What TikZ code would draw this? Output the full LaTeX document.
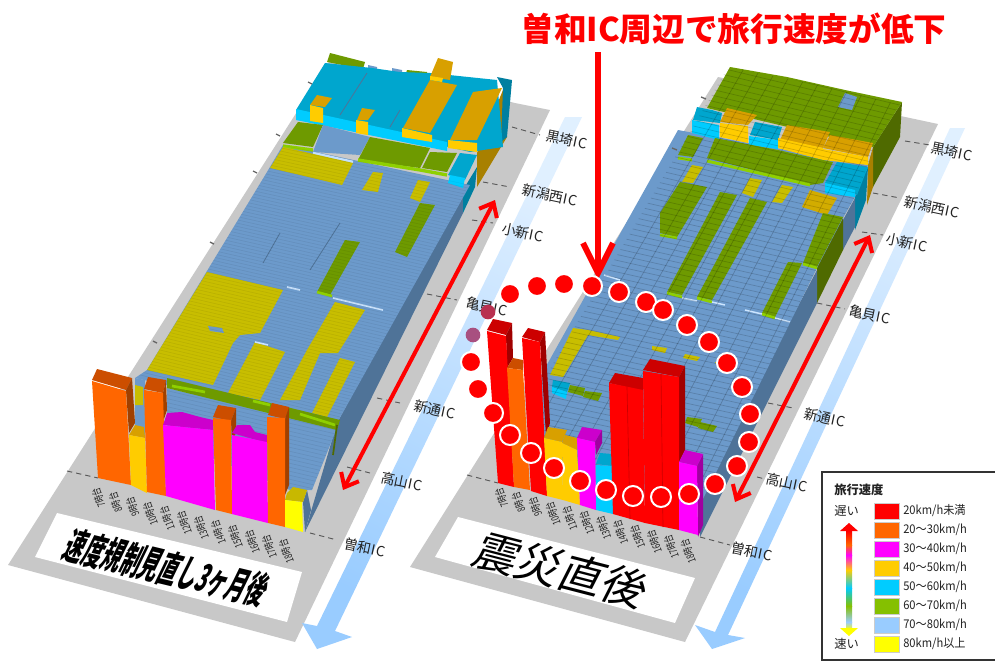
\documentclass[tikz,border=0pt]{standalone}
\usepackage{fontspec}
\usepackage{graphicx}
\usetikzlibrary{arrows.meta}
\setmainfont{Noto Sans CJK JP}
\definecolor{blTop}{HTML}{6C9ACB}
\definecolor{blWall}{HTML}{4F7398}
\definecolor{olv}{HTML}{C8BE00}
\definecolor{grn}{HTML}{6E9A00}
\definecolor{grnW}{HTML}{4F6A00}
\definecolor{lime}{HTML}{8FD000}
\definecolor{cyT}{HTML}{00A6CE}
\definecolor{cyF}{HTML}{00CCFF}
\definecolor{cyW}{HTML}{007FA0}
\definecolor{gdT}{HTML}{D8A000}
\definecolor{gdF}{HTML}{FFCC00}
\definecolor{gdW}{HTML}{A88000}
\definecolor{orF}{HTML}{FF6600}
\definecolor{orT}{HTML}{CC4E00}
\definecolor{orW}{HTML}{A04000}
\definecolor{mgF}{HTML}{FF00FF}
\definecolor{mgT}{HTML}{CC00CC}
\definecolor{mgW}{HTML}{A000A0}
\definecolor{rdF}{HTML}{FF0000}
\definecolor{rdT}{HTML}{CC0000}
\definecolor{rdW}{HTML}{A00000}
\definecolor{ylF}{HTML}{FFFF00}
\definecolor{ylT}{HTML}{C8B800}
\definecolor{base}{HTML}{C8C8C8}
\definecolor{lgt}{HTML}{99CCFF}
\definecolor{txtc}{HTML}{222222}
\definecolor{dotA}{HTML}{B83050}
\definecolor{dotB}{HTML}{A85080}
\tikzset{
  tick/.style={draw=black!65,line width=0.7pt,dash pattern=on 4pt off 3pt},
  iclabel/.style={text=txtc,font=\fontsize{10.5}{12}\selectfont,rotate=-12,inner sep=0pt},
  hourlabel/.style={text=txtc,font=\fontsize{8}{9}\selectfont,rotate=110,inner sep=0pt,anchor=east},
  redarrow/.style={draw=red,line width=3pt,{Straight Barb[length=9pt,width=15pt,line width=3pt]}-{Straight Barb[length=9pt,width=15pt,line width=3pt]}},
  dotring/.style={circle,fill=red,draw=white,line width=1.5pt,minimum size=15pt,inner sep=0pt},
  dotplain/.style={circle,fill=#1,minimum size=11pt,inner sep=0pt},
  swatch/.style={minimum width=19pt,minimum height=12pt,inner sep=0pt,draw=black!20,line width=0.3pt},
  legtext/.style={text=txtc,font=\fontsize{9}{10}\selectfont,anchor=west,inner sep=0pt},
  bluearrow/.style={top color=lgt!30,middle color=lgt!90,bottom color=lgt,shading angle=-25},
}
\newcommand{\pg}[2]{\fill[#1] #2 -- cycle;}
\newcommand{\ICt}{I\kern1pt C}
\begin{document}
\begin{tikzpicture}[x=0.75pt,y=-0.75pt]
\useasboundingbox (0,0) rectangle (995,661);
\fill[white] (0,0) rectangle (995,661);
% ---------- grey bases
\pg{base}{(8,565)--(295,642)--(550,110)--(515,103)--(330,60)}
\pg{base}{(410,567)--(685,642)--(938,124)--(718,77)}
% ---------- blue arrows
\shade[bluearrow] (565,117)--(582,117)--(335,631)--(352,637)--(317,649)--(302,623)--(317,626)--cycle;
\shade[bluearrow] (950,128)--(965,128)--(728,635)--(745,638)--(712,649)--(695,625)--(715,632)--cycle;
% ---------- white plates
\pg{white}{(57,513)--(302,572)--(287,622)--(35,557)}
\pg{white}{(458,517)--(695,578)--(675,623)--(435,557)}
\node[rotate=-13.5,xslant=0.22,inner sep=0pt,font=\fontsize{29}{30}\selectfont\bfseries] (ltitle) at (167,568) {\scalebox{0.5}[1]{速度規制見直し3ヶ月後}};
\node[rotate=-14.5,xslant=0.22,inner sep=0pt,font=\fontsize{33}{34}\selectfont] (rtitle) at (562,570) {震災直後};
% ---------- left panel walls
\pg{blWall}{(305,532)--(337,423)--(463,190)--(463,213)}
\pg{cyW}{(463,190)--(477,167)--(475,187)--(463,213)}
\pg{gdW}{(477,153)--(503,90)--(507,137)--(477,187)}
\pg{cyW}{(503,88)--(497,77)--(512,80)--(507,137)--(501,142)}
% left panel surface
\pg{blTop}{(283,145)--(470,185)--(337,423)--(135,378)--(147,370)--(267,172)}
\pg{grn}{(330,53)--(365,62)--(363,69)--(327,62)}
\pg{blTop}{(368,65)--(377,67)--(377,75)--(368,73)}
\pg{blTop}{(392,68)--(402,70)--(402,76)--(392,74)}
\pg{grn}{(407,70)--(427,72)--(427,79)--(405,76)}
\pg{cyT}{(325,63)--(372,68)--(400,72)--(430,73)--(497,80)--(503,147)--(470,152)--(300,112)--(296,110)}
\pg{cyF}{(296,109)--(447,142)--(447,151)--(296,120)}
\pg{gdT}{(438,58)--(453,62)--(450,80)--(430,77)}
\pg{gdT}{(430,80)--(457,85)--(430,133)--(403,128)}
\pg{gdF}{(402,128)--(432,135)--(432,142)--(402,137)}
\pg{gdF}{(430,76)--(443,78)--(442,82)--(430,80)}
\pg{gdT}{(473,92)--(502,88)--(477,140)--(450,140)}
\pg{gdF}{(448,140)--(477,143)--(477,152)--(448,148)}
\pg{gdT}{(317,95)--(332,98)--(325,107)--(310,105)}
\pg{gdF}{(310,105)--(323,108)--(323,123)--(310,121)}
\pg{gdT}{(362,108)--(375,110)--(368,120)--(357,120)}
\pg{gdF}{(356,120)--(368,122)--(368,135)--(356,133)}
\pg{grn}{(298,122)--(323,125)--(313,147)--(283,143)}
\pg{blTop}{(323,125)--(370,137)--(360,155)--(313,152)}
\pg{grn}{(370,137)--(430,148)--(420,168)--(358,160)}
\pg{grn}{(430,152)--(457,153)--(447,172)--(422,168)}
\pg{cyT}{(460,153)--(477,155)--(465,180)--(448,175)}
\pg{cyF}{(450,175)--(465,178)--(463,188)--(448,183)}
\draw[lime,line width=2.5pt] (283,146)--(313,150);
\draw[lime,line width=2.5pt] (358,160)--(420,170)--(447,175);
\draw[lgt!60,line width=2pt] (313,153)--(353,162);
\pg{olv}{(270,168)--(283,147)--(353,163)--(342,185)--(300,175)}
\pg{olv}{(373,172)--(383,173)--(378,192)--(362,190)}
\pg{olv}{(418,180)--(430,182)--(420,202)--(410,198)}
\pg{grn}{(420,203)--(435,205)--(407,257)--(395,252)}
\pg{grn}{(345,240)--(360,242)--(330,295)--(317,292)}
\draw[lime,line width=2pt] (317,292)--(332,296);
\pg{olv}{(207,272)--(283,290)--(260,333)--(240,335)--(233,343)--(213,385)--(147,370)}
\pg{blTop}{(208,326)--(222,328)--(224,333)--(210,331)}
\pg{olv}{(255,342)--(285,352)--(260,400)--(228,393)}
\pg{olv}{(335,302)--(365,310)--(338,353)--(320,353)--(300,400)--(280,400)--(307,350)}
\pg{olv}{(340,358)--(355,362)--(327,417)--(312,413)}
\draw[lgt!50,line width=1.2pt] (287,287)--(300,290) (333,298)--(383,310) (255,342)--(268,345);
\draw[blWall,line width=0.6pt] (280,233)--(263,263) (340,223)--(310,270) (367,73)--(340,115) (400,110)--(390,127);
% stripes left
\begin{scope}
\clip (283,145)--(470,185)--(337,423)--(135,378)--(147,370)--(267,172)--cycle;
\foreach \t in {0,0.0125,...,1.01}{
  \pgfmathsetmacro\ax{132+\t*(283-132)}\pgfmathsetmacro\ay{373+\t*(145-373)}
  \pgfmathsetmacro\bx{337+\t*(470-337)}\pgfmathsetmacro\by{423+\t*(185-423)}
  \draw[black,opacity=0.08,line width=0.4pt] (\ax,\ay)--(\bx,\by);
}
\end{scope}
% green strip + blue behind bars
\pg{blTop}{(167,388)--(337,428)--(312,490)--(290,490)--(167,440)}
\begin{scope}
\clip (167,388)--(337,428)--(312,490)--(290,490)--(167,440)--cycle;
\foreach \t in {0,...,24}{\draw[black,opacity=0.08,line width=0.4pt] (160,{385+\t*4})--(340,{427+\t*4});}
\end{scope}
\pg{grn}{(167,378)--(340,420)--(337,430)--(167,388)}
\draw[lime,line width=2pt] (172,386)--(205,392) (253,401)--(270,405) (300,414)--(335,425);
\draw[grnW,line width=1.3pt] (337,425)--(333,455);
% left near bars
\pg{orT}{(92,380)--(97,369)--(132,378)--(126,390)}
\pg{orW}{(126,390)--(132,378)--(135,423)--(129,433)}
\pg{orF}{(92,381)--(126,391)--(131,485)--(98,478)}
\pg{blTop}{(135,378)--(145,380)--(145,438)--(135,425)}
\pg{olv}{(135,385)--(143,387)--(143,405)--(135,405)}
\pg{gdT}{(129,435)--(135,425)--(144,427)--(145,438)}
\pg{gdF}{(129,435)--(145,438)--(147,493)--(131,485)}
\pg{orT}{(144,389)--(148,377)--(166,380)--(163,393)}
\pg{orW}{(163,393)--(166,380)--(167,410)--(163,422)}
\pg{orF}{(144,390)--(163,393)--(166,496)--(147,492)}
\pg{mgT}{(163,425)--(167,413)--(182,412)--(200,417)--(213,420)--(213,430)}
\pg{mgF}{(163,425)--(213,430)--(215,510)--(166,496)}
\pg{orT}{(213,417)--(218,405)--(236,408)--(231,421)}
\pg{orW}{(231,421)--(236,408)--(236,433)--(232,440)}
\pg{orF}{(213,418)--(231,420)--(232,514)--(216,510)}
\pg{mgT}{(232,433)--(237,425)--(250,425)--(255,432)--(267,435)--(267,443)}
\pg{mgF}{(232,435)--(267,442)--(268,523)--(232,514)}
\pg{orT}{(268,415)--(272,403)--(289,407)--(285,419)}
\pg{orW}{(285,419)--(289,407)--(289,485)--(285,495)}
\pg{orF}{(267,417)--(285,418)--(285,527)--(268,523)}
\pg{blWall}{(303,502)--(307,490)--(311,510)--(305,532)}
\pg{ylT}{(287,493)--(293,487)--(307,490)--(303,502)--(285,500)}
\pg{ylF}{(285,500)--(302,502)--(303,532)--(285,527)}
% ---------- right panel walls
\pg{grnW}{(902,102)--(900,137)--(873,187)--(873,147)}
\pg{gdW}{(868,165)--(873,147)--(873,187)--(867,205)}
\pg{cyW}{(868,167)--(866,200)--(855,230)--(855,195)}
\pg{blWall}{(855,198)--(855,227)--(843,250)--(843,220)}
\pg{grnW}{(843,215)--(843,250)--(817,303)--(817,267)}
\pg{blWall}{(817,270)--(817,303)--(700,537)--(700,500)--(710,473)}
% right surface
\pg{blTop}{(678,130)--(868,165)--(855,197)--(843,218)--(817,268)--(700,505)--(540,470)--(530,395)}
\pg{grn}{(730,67)--(787,77)--(845,90)--(902,102)--(873,147)--(707,108)}
\pg{blTop}{(845,93)--(857,97)--(852,110)--(838,107)}
\pg{cyT}{(697,107)--(712,110)--(722,113)--(720,123)--(693,120)}
\pg{cyF}{(692,120)--(719,125)--(719,140)--(692,133)}
\pg{gdT}{(727,108)--(757,115)--(748,125)--(720,122)}
\pg{gdF}{(720,123)--(748,126)--(748,143)--(720,137)}
\pg{cyT}{(755,122)--(782,127)--(778,140)--(750,135)}
\pg{cyF}{(749,136)--(778,140)--(778,149)--(749,145)}
\pg{gdT}{(787,125)--(830,132)--(823,148)--(780,140)}
\pg{gdF}{(778,138)--(823,148)--(823,160)--(778,148)}
\pg{gdT}{(830,135)--(873,143)--(868,157)--(823,148)}
\pg{gdF}{(823,149)--(868,157)--(868,165)--(823,160)}
\pg{grn}{(688,135)--(703,138)--(693,157)--(678,155)}
\pg{grn}{(715,138)--(778,150)--(823,160)--(833,162)--(823,183)--(810,185)--(707,158)}
\draw[lime,line width=2.2pt] (678,158)--(692,160) (707,161)--(810,185);
\pg{cyT}{(837,162)--(868,167)--(857,195)--(825,183)}
\pg{cyF}{(825,183)--(855,190)--(855,197)--(825,193)}
\pg{olv}{(692,165)--(703,167)--(693,183)--(682,182)}
\pg{olv}{(750,178)--(762,180)--(753,197)--(742,193)}
\pg{olv}{(782,185)--(793,187)--(782,203)--(772,202)}
\pg{gdT!60!olv}{(810,190)--(837,198)--(827,215)--(802,207)}
\pg{grn}{(680,182)--(707,187)--(677,237)--(660,233)--(660,213)}
\pg{grn}{(720,192)--(737,195)--(682,295)--(667,292)}
\pg{grn}{(750,198)--(767,202)--(712,300)--(697,297)}
\pg{grn}{(788,262)--(802,263)--(775,317)--(762,313)}
\pg{grn}{(823,213)--(843,217)--(817,267)--(803,263)}
\draw[lime,line width=2pt] (660,235)--(677,238) (667,293)--(682,297) (697,298)--(712,302) (762,314)--(775,318) (803,264)--(817,268);
\draw[lgt!50,line width=1.1pt] (604,275)--(620,280) (682,298)--(697,301) (712,302)--(725,305) (745,310)--(762,314) (775,318)--(790,322);
\pg{olv}{(573,328)--(588,330)--(620,337)--(618,340)--(588,335)--(563,377)--(550,375)}
\pg{olv}{(652,346)--(667,348)--(665,353)--(652,350)}
\pg{olv}{(685,354)--(700,357)--(697,361)--(683,358)}
\pg{olv}{(715,362)--(722,363)--(718,367)}
\pg{cyT}{(553,380)--(570,383)--(567,392)--(552,387)}
\pg{cyF}{(552,387)--(567,392)--(566,399)--(552,393)}
\pg{grn}{(570,385)--(585,388)--(583,396)--(568,392)}
\pg{grn}{(585,391)--(602,393)--(598,401)--(583,397)}
\pg{grn}{(687,417)--(702,419)--(698,427)--(685,423)}
\pg{grn}{(700,422)--(717,426)--(713,432)--(698,428)}
% stripes right
\begin{scope}
\clip (730,67)--(902,102)--(873,147)--(868,165)--(855,197)--(843,218)--(817,268)--(700,505)--(540,470)--(530,395)--(678,130)--cycle;
\foreach \t in {0,0.0135,...,1.05}{
  \pgfmathsetmacro\ax{505+\t*(730-505)}\pgfmathsetmacro\ay{445+\t*(64-445)}
  \pgfmathsetmacro\bx{716+\t*(905-716)}\pgfmathsetmacro\by{490+\t*(106-490)}
  \draw[black,opacity=0.17,line width=0.5pt] (\ax,\ay)--(\bx,\by);
}
\foreach \u in {1,...,11}{
  \pgfmathsetmacro\ax{505+\u/12*211}\pgfmathsetmacro\ay{445+\u/12*45}
  \pgfmathsetmacro\bx{730+\u/12*175}\pgfmathsetmacro\by{64+\u/12*42}
  \draw[black,opacity=0.2,line width=0.5pt] (\ax,\ay)--(\bx,\by);
}
\end{scope}
% right bars
\pg{rdT}{(487,330)--(493,319)--(512,323)--(506,335)}
\pg{rdW}{(506,335)--(512,323)--(513,358)--(507,368)}
\pg{rdF}{(487,331)--(506,336)--(514,487)--(498,483)}
\pg{orT}{(507,368)--(513,358)--(523,360)--(523,370)}
\pg{orF}{(507,368)--(523,370)--(530,490)--(514,487)}
\pg{rdT}{(522,337)--(528,328)--(545,332)--(540,342)}
\pg{rdW}{(540,342)--(545,332)--(550,423)--(546,435)}
\pg{rdF}{(522,338)--(540,342)--(547,496)--(531,491)}
\pg{gdT}{(544,438)--(548,427)--(567,430)--(562,442)}
\pg{gdF}{(544,438)--(562,442)--(563,500)--(547,496)}
\pg{gdT}{(562,443)--(565,435)--(577,438)--(577,450)}
\pg{gdF}{(562,443)--(577,450)--(580,505)--(563,500)}
\pg{mgT}{(577,438)--(582,427)--(602,430)--(595,442)}
\pg{mgW}{(595,442)--(602,430)--(602,443)--(596,455)}
\pg{mgF}{(577,438)--(595,442)--(596,510)--(580,505)}
\pg{cyT}{(596,464)--(600,453)--(612,454)--(612,466)}
\pg{cyF}{(596,465)--(612,466)--(613,514)--(596,510)}
\pg{rdT}{(609,383)--(615,373)--(643,378)--(643,391)}
\pg{rdF}{(609,383)--(643,390)--(645,523)--(613,514)}
\pg{rdT}{(643,370)--(650,359)--(685,366)--(679,377)}
\pg{rdW}{(679,377)--(685,366)--(685,450)--(679,462)}
\pg{rdF}{(643,371)--(679,377)--(679,530)--(645,523)}
\draw[rdT,line width=0.5pt] (627,387)--(630,519) (661,374)--(663,527);
\pg{mgW}{(697,466)--(703,454)--(703,525)--(698,537)}
\pg{mgT}{(679,462)--(685,450)--(703,454)--(697,466)}
\pg{mgF}{(679,462)--(697,466)--(698,535)--(679,530)}
% ---------- ticks and IC labels, left panel
\draw[tick] (512,127)--(540,135) (483,182)--(510,187) (472,220)--(493,223) (427,294)--(457,300) (377,398)--(400,403) (347,467)--(370,473) (310,533)--(337,540) (67,471)--(98,478);
\draw[black!60,line width=1pt] (308,82)--(312,84) (276,134)--(280,136) (253,171)--(257,173) (210,242)--(214,244) (153,341)--(157,343);
\node[iclabel] (lk) at (567,140) {黒埼\ICt};
\node[iclabel] (ln) at (550,195) {新潟西\ICt};
\node[iclabel] (lo) at (523,233) {小新\ICt};
\node[iclabel] (lm) at (487,307) {亀貝\ICt};
\node[iclabel] (lt) at (435,410) {新通\ICt};
\node[iclabel] (lh) at (402,482) {高山\ICt};
\node[iclabel] (ls) at (365,548) {曽和\ICt};
% right
\draw[tick] (905,141)--(930,145) (873,193)--(900,198) (862,232)--(883,235) (817,303)--(845,309) (768,403)--(793,408) (757,477)--(765,479) (700,537)--(730,545) (467,475)--(498,483);
\draw[black!60,line width=1pt] (701,97)--(706,99) (672,148)--(677,150);
\node[iclabel] (rk) at (952,152) {黒埼\ICt};
\node[iclabel] (rn) at (932,207) {新潟西\ICt};
\node[iclabel] (ro) at (907,243) {小新\ICt};
\node[iclabel] (rm) at (870,315) {亀貝\ICt};
\node[iclabel] (rt) at (825,418) {新通\ICt};
\node[iclabel] (rh) at (787,483) {高山\ICt};
\node[iclabel] (rs) at (752,552) {曽和\ICt};
% ---------- hour labels
\foreach \n [count=\i from 0] in {7,8,9,10,11,12,13,14,15,16,17,18}{
  \node[hourlabel] at ({95+\i*17},{488+\i*4.7}) {\scalebox{0.72}[1]{\n 時台}};
  \node[hourlabel] at ({498+\i*16.9},{488+\i*4.7}) {\scalebox{0.72}[1]{\n 時台}};
}
% ---------- red double arrows
\draw[redarrow] (343,490)--(495,200);
\draw[redarrow] (735,502)--(870,235);
% ---------- title and down arrow
\node[text=red,inner sep=0pt,font=\fontsize{24.5}{26}\selectfont\bfseries] (title) at (734,29) {曽和IC周辺で旅行速度が低下};
\coordinate (dtop) at (598,52);
\coordinate (dtip) at (598,273);
\draw[red,line width=4.5pt] (dtop)--(dtip);
\draw[red,line width=4.5pt,line join=miter] (583,243)--(dtip)--(613,243);
% ---------- dots
\foreach \p in {(592,286),(619,292),(646,302),(663,310),(687,325),(709,342),(727,363),(742,387),(750,414),(749,442),(737,466),(715,484),(689,494),(661,497),(633,496),(606,490),(580,481),(554,468),(531,453),(510,435),(493,413),(478,389),(471,362),(510,294),(537,286),(564,284)}{
  \node[dotring] at \p {};
}
\node[dotplain=dotA] at (488,312) {};
\node[dotplain=dotB] at (473,335) {};
% ---------- legend
\draw[black!80,fill=white,line width=1pt] (822,472) rectangle (996,660);
\node[text=txtc,anchor=west,inner sep=0pt,font=\fontsize{9.2}{10}\selectfont\bfseries] (legt) at (834,490) {旅行速度};
\node[text=txtc,anchor=west,inner sep=0pt,font=\fontsize{9.2}{10}\selectfont] (slow) at (834,511) {遅い};
\node[text=txtc,anchor=west,inner sep=0pt,font=\fontsize{9.2}{10}\selectfont] (fast) at (834,644) {速い};
\foreach \c/\yy/\t in {rdF/511/{20km/h未満},orF/530/{20～30km/h},mgF/549/{30～40km/h},gdF/568/{40～50km/h},cyF/587/{50～60km/h},lime!70!grn/606/{60～70km/h},lgt/625/{70～80km/h},ylF/644/{80km/h以上}}{
  \node[swatch,fill=\c] at (887,\yy) {};
  \node[legtext] at (903,\yy) {\scalebox{0.93}[1]{\t}};
}
\shade[top color=rdF,bottom color=orF] (846,531) rectangle (852,545);
\shade[top color=orF,bottom color=mgF] (846,545) rectangle (852,555);
\shade[top color=mgF,bottom color=gdF] (846,555) rectangle (852,570);
\shade[top color=gdF,bottom color=cyF] (846,570) rectangle (852,588);
\shade[top color=cyF,bottom color=lime!70!grn] (846,588) rectangle (852,606);
\shade[top color=lime!70!grn,bottom color=lgt] (846,606) rectangle (852,622);
\shade[top color=lgt,bottom color=ylF] (846,622) rectangle (852,630);
\pg{rdF}{(849,523)--(858,531)--(840,531)}
\pg{ylF}{(840,628)--(858,628)--(849,636)}
\end{tikzpicture}
\end{document}
